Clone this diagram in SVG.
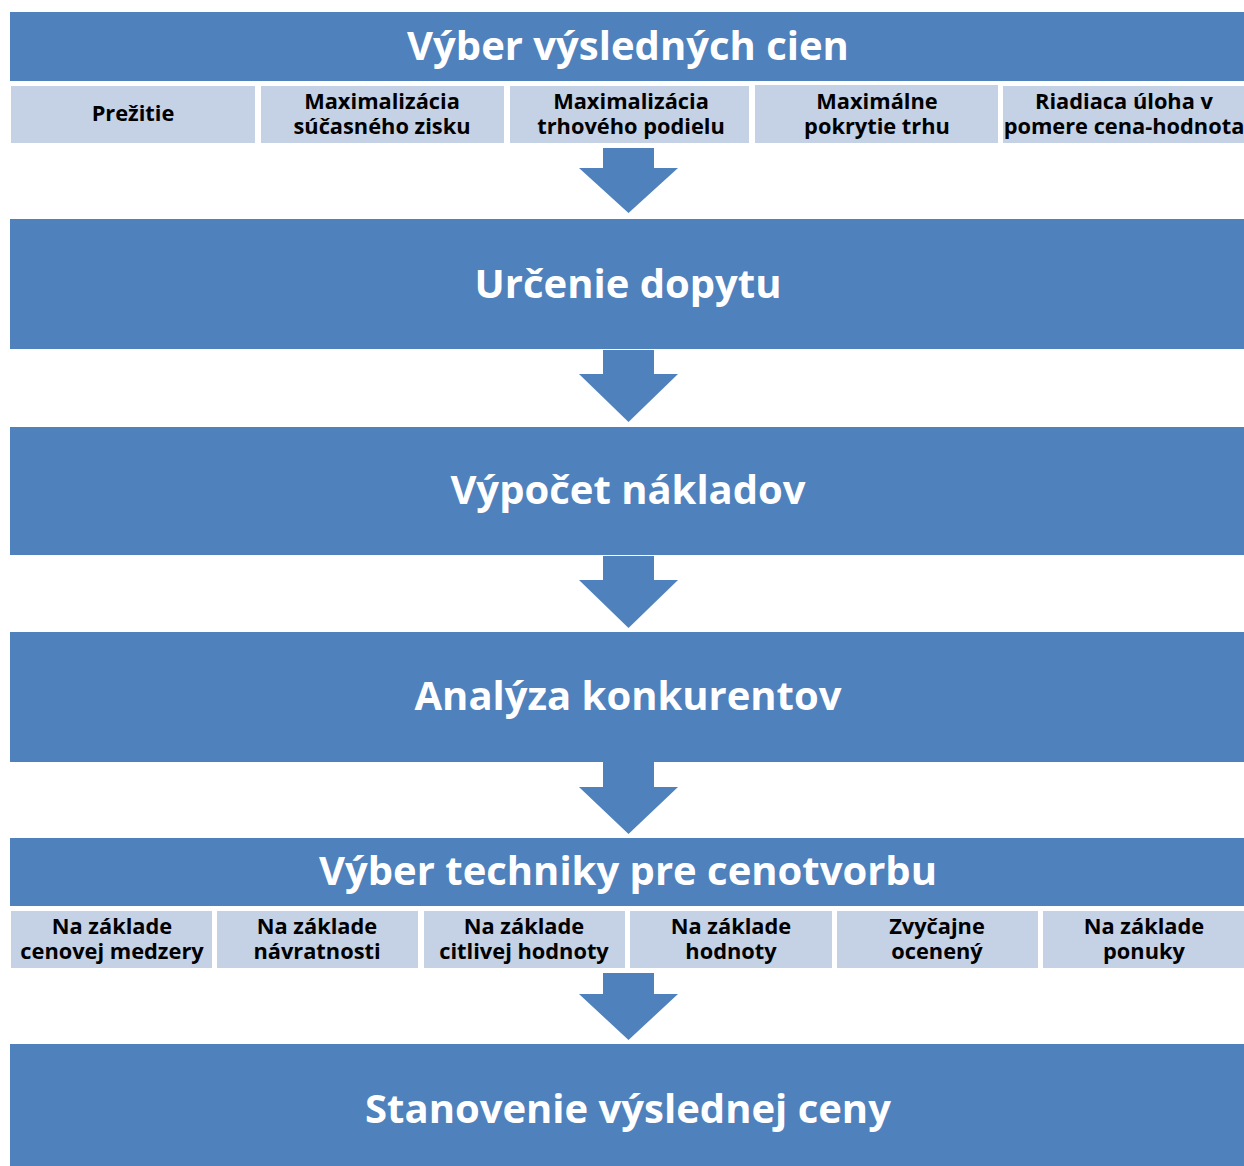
<svg xmlns="http://www.w3.org/2000/svg" width="1244" height="1166" viewBox="0 0 1244 1166">
<style>
.bar{fill:#4F81BD}
.sub{fill:#C5D1E5}
.arrow{fill:#4F81BD}
.t{font-family:"Open Sans","DejaVu Sans",sans-serif;font-weight:700;fill:#FFFFFF;text-anchor:middle;font-size:40px}
.s{font-family:"Open Sans","DejaVu Sans",sans-serif;font-weight:700;fill:#000000;text-anchor:middle;font-size:21.8px}
</style>
<rect width="1244" height="1166" fill="#FFFFFF"/>
<g id="connectors">
<path class="arrow" d="M603,148 H654 V168 H678 L628.5,213 L579,168 H603 Z"/>
<path class="arrow" d="M603,350 H654 V374 H678 L628.5,422 L579,374 H603 Z"/>
<path class="arrow" d="M603,556 H654 V580 H678 L628.5,628 L579,580 H603 Z"/>
<path class="arrow" d="M603,762 H654 V787 H678 L628.5,834 L579,787 H603 Z"/>
<path class="arrow" d="M603,973 H654 V994 H678 L628.5,1040 L579,994 H603 Z"/>
</g>
<g id="node-ciele">
<rect class="bar" x="10" y="12" width="1234" height="69"/>
<text class="t" x="628" y="60">Výber výsledných cien</text>
</g>
<g id="ciel-1"><rect class="sub" x="11" y="86" width="244" height="57"/><text class="s" x="133" y="121">Prežitie</text></g>
<g id="ciel-2"><rect class="sub" x="261" y="86" width="243" height="57"/><text class="s" x="382" y="109">Maximalizácia</text><text class="s" x="382" y="134">súčasného zisku</text></g>
<g id="ciel-3"><rect class="sub" x="510" y="86" width="239" height="57"/><text class="s" x="631" y="109">Maximalizácia</text><text class="s" x="631" y="134">trhového podielu</text></g>
<g id="ciel-4"><rect class="sub" x="755" y="85" width="243" height="58"/><text class="s" x="877" y="109">Maximálne</text><text class="s" x="877" y="134">pokrytie trhu</text></g>
<g id="ciel-5"><rect class="sub" x="1003" y="86" width="241" height="57"/><text class="s" x="1124" y="109">Riadiaca úloha v</text><text class="s" x="1124" y="134">pomere cena-hodnota</text></g>
<g id="node-dopyt">
<rect class="bar" x="10" y="219" width="1234" height="130"/>
<text class="t" x="628" y="298">Určenie dopytu</text>
</g>
<g id="node-naklady">
<rect class="bar" x="10" y="427" width="1234" height="128"/>
<text class="t" x="628" y="504">Výpočet nákladov</text>
</g>
<g id="node-konkurenti">
<rect class="bar" x="10" y="632" width="1234" height="130"/>
<text class="t" x="628" y="710">Analýza konkurentov</text>
</g>
<g id="node-technika">
<rect class="bar" x="10" y="838" width="1234" height="68"/>
<text class="t" x="628" y="885">Výber techniky pre cenotvorbu</text>
</g>
<g id="tech-1"><rect class="sub" x="11" y="911" width="201" height="57"/><text class="s" x="112" y="934">Na základe</text><text class="s" x="112" y="959">cenovej medzery</text></g>
<g id="tech-2"><rect class="sub" x="217" y="911" width="201" height="57"/><text class="s" x="317" y="934">Na základe</text><text class="s" x="317" y="959">návratnosti</text></g>
<g id="tech-3"><rect class="sub" x="424" y="911" width="201" height="57"/><text class="s" x="524" y="934">Na základe</text><text class="s" x="524" y="959">citlivej hodnoty</text></g>
<g id="tech-4"><rect class="sub" x="630" y="911" width="202" height="57"/><text class="s" x="731" y="934">Na základe</text><text class="s" x="731" y="959">hodnoty</text></g>
<g id="tech-5"><rect class="sub" x="837" y="911" width="201" height="57"/><text class="s" x="937" y="934">Zvyčajne</text><text class="s" x="937" y="959">ocenený</text></g>
<g id="tech-6"><rect class="sub" x="1043" y="911" width="201" height="57"/><text class="s" x="1144" y="934">Na základe</text><text class="s" x="1144" y="959">ponuky</text></g>
<g id="node-cena">
<rect class="bar" x="10" y="1044" width="1234" height="122"/>
<text class="t" x="628" y="1123">Stanovenie výslednej ceny</text>
</g>
</svg>
